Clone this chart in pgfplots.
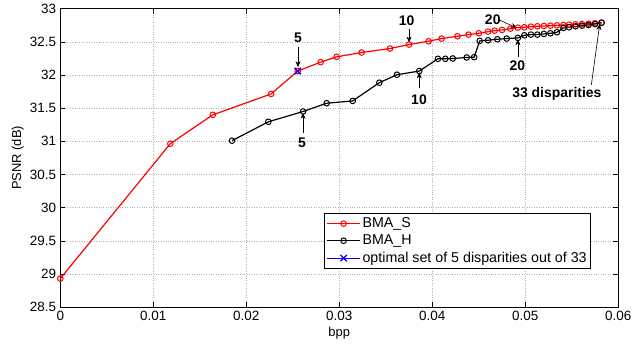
\documentclass[border=0pt]{standalone}
\usepackage{fontspec}
\setmainfont{Liberation Sans}
\usepackage{pgfplots}
\pgfplotsset{compat=1.18}
\usetikzlibrary{arrows.meta}
\begin{document}
\fontsize{12}{14}\selectfont
\begin{tikzpicture}
\begin{axis}[
  scale only axis,
  width=558bp, height=298.4bp,
  xmin=0, xmax=0.06, ymin=28.5, ymax=33,
  xtick={0,0.01,0.02,0.03,0.04,0.05,0.06},
  xticklabels={0,0.01,0.02,0.03,0.04,0.05,0.06},
  ytick={28.5,29,29.5,30,30.5,31,31.5,32,32.5,33},
  yticklabels={28.5,29,29.5,30,30.5,31,31.5,32,32.5,33},
  scaled x ticks=false,
  tick align=inside,
  major tick length=5bp,
  tick style={black, line width=0.6pt},
  axis line style={line width=1.1pt},
  grid=major,
  major grid style={dotted, gray!60, line width=0.6pt},
  ticklabel style={font=\fontsize{13.5}{15}\selectfont},
  label style={font=\fontsize{13}{15}\selectfont},
  xlabel={bpp}, ylabel={PSNR (dB)},
  xlabel style={yshift=2bp},
  ylabel style={yshift=-2bp},
  legend style={at={(rel axis cs:0.951,0.314)}, anchor=north east,
    font=\fontsize{14.3}{16}\selectfont, draw=black, line width=0.6pt,
    row sep=1.5bp, inner sep=2bp},
  legend cell align=left,
  legend image post style={line width=1pt},
  legend image code/.code={\draw[#1] (0bp,0bp) -- (33bp,0bp); \draw[#1, only marks] plot coordinates {(16.5bp,0bp)};},
]
\addplot[red, line width=1.2pt, mark=o, mark size=2.8bp, mark options={line width=1pt}] coordinates {
(0,28.93) (0.01183,30.965) (0.0164,31.40) (0.02266,31.715) (0.02553,32.06)
(0.0280,32.195) (0.02972,32.275) (0.0324,32.34) (0.03545,32.40) (0.0375,32.46)
(0.0396,32.51) (0.0410,32.55) (0.0427,32.585) (0.0439,32.61) (0.0450,32.63)
(0.0460,32.655) (0.0467,32.67) (0.0475,32.68) (0.0484,32.70) (0.0492,32.715)
(0.0499,32.72) (0.0506,32.73) (0.0513,32.735) (0.0520,32.74) (0.0527,32.745)
(0.0534,32.75) (0.0541,32.755) (0.0547,32.76) (0.0554,32.765) (0.0561,32.77)
(0.0568,32.775) (0.0575,32.78) (0.0582,32.79)
};
\addlegendentry{BMA\_S}
\addplot[black, line width=1.2pt, mark=o, mark size=2.8bp, mark options={line width=1pt}] coordinates {
(0.01846,31.01) (0.02237,31.295) (0.0261,31.45) (0.02864,31.575) (0.03144,31.61)
(0.0343,31.885) (0.0362,32.005) (0.0386,32.06) (0.0406,32.245) (0.0414,32.245)
(0.0422,32.25) (0.0437,32.265) (0.0445,32.27) (0.0451,32.515) (0.0460,32.525)
(0.0470,32.54) (0.0480,32.55) (0.0492,32.56) (0.0499,32.60) (0.0506,32.61)
(0.0513,32.61) (0.0520,32.62) (0.0527,32.63) (0.0534,32.645) (0.0541,32.71)
(0.0547,32.72) (0.0554,32.735) (0.0561,32.745) (0.0568,32.755) (0.0575,32.77)
(0.0582,32.79)
};
\addlegendentry{BMA\_H}
\addplot[blue, line width=1.2pt, mark=x, mark size=4.5bp, mark options={line width=1.3pt}] coordinates {(0.02553,32.06)};
\addlegendentry{optimal set of 5 disparities out of 33}
% annotations
\tikzset{ann/.style={font=\bfseries\fontsize{14}{16}\selectfont}, arr/.style={-{Stealth[length=6bp,width=5bp]}, line width=0.6pt}}
\node[ann] at (axis cs:0.02556,32.555) {5};
\draw[arr] (axis cs:0.02556,32.43) -- (axis cs:0.02556,32.12);
\node[ann] at (axis cs:0.03725,32.825) {10};
\draw[arr] (axis cs:0.0375,32.70) -- (axis cs:0.0375,32.49);
\node[ann] at (axis cs:0.0465,32.835) {20};
\draw[arr] (axis cs:0.0472,32.83) -- (axis cs:0.0491,32.71);
\node[ann] at (axis cs:0.0260,30.976) {5};
\draw[arr] (axis cs:0.0261,31.13) -- (axis cs:0.0261,31.43);
\node[ann] at (axis cs:0.03857,31.625) {10};
\draw[arr] (axis cs:0.0386,31.80) -- (axis cs:0.0386,32.04);
\node[ann] at (axis cs:0.04914,32.14) {20};
\draw[arr] (axis cs:0.0492,32.27) -- (axis cs:0.0492,32.54);
\node[ann] at (axis cs:0.0534,31.715) {33 disparities};
\draw[arr] (axis cs:0.0571,31.85) -- (axis cs:0.0580,32.77);
\coordinate (sw) at (rel axis cs:0,0);
\end{axis}
\path (sw) ++(-60.3bp,-39.3bp) rectangle ++(642bp,346bp);
\end{tikzpicture}
\end{document}
